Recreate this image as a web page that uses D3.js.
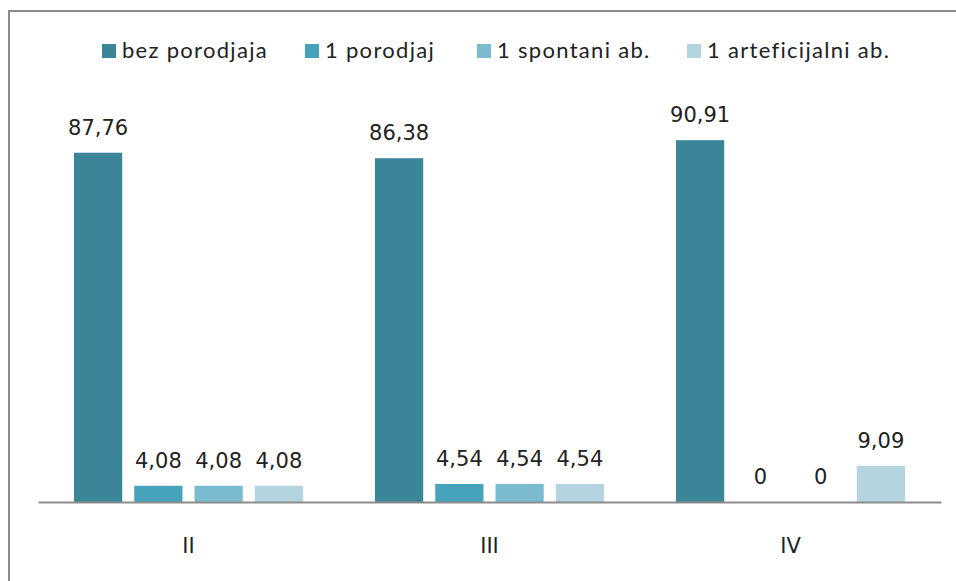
<!DOCTYPE html>
<html>
<head>
<meta charset="utf-8">
<script src="https://cdn.jsdelivr.net/npm/d3@7"></script>
<style>
  body { margin: 0; background: #fff; }
  svg { display: block; }
</style>
</head>
<body>
<script>
// data
const categories = ["II", "III", "IV"];
const seriesNames = ["bez porodjaja", "1 porodjaj", "1 spontani ab.", "1 arteficijalni ab."];
const bezPorodjaja = [87.76, 86.38, 90.91];
const jedanPorodjaj = [4.08, 4.54, 0];
const spontaniAb = [4.08, 4.54, 0];
const arteficijalniAb = [4.08, 4.54, 9.09];
const colors = ["#3b8599", "#46a3bb", "#7bbbd0", "#b4d4e0"];

const seriesValues = [bezPorodjaja, jedanPorodjaj, spontaniAb, arteficijalniAb];

const W = 956, H = 581;
const svg = d3.select("body").append("svg")
    .attr("width", W)
    .attr("height", H);

// outer frame (right and bottom edges fall outside the picture)
svg.append("rect")
    .attr("x", 9).attr("y", 11)
    .attr("width", W + 20).attr("height", H + 20)
    .attr("fill", "none")
    .attr("stroke", "#8c8c8c")
    .attr("stroke-width", 2);

const x = d3.scaleBand()
    .domain(categories)
    .range([38, 941]);

const xs = d3.scaleBand()
    .domain(d3.range(seriesNames.length))
    .range([36, x.bandwidth() - 36])
    .paddingInner(0.2);

const y = d3.scaleLinear()
    .domain([0, 100])
    .range([502, 104]);

const fmt = v => String(v).replace(".", ",");

const groups = svg.append("g").selectAll("g")
    .data(categories)
    .join("g")
    .attr("transform", d => `translate(${x(d)},0)`);

groups.selectAll("rect")
    .data((d, i) => seriesValues.map((s, k) => ({ k, v: s[i] })))
    .join("rect")
    .attr("x", d => xs(d.k))
    .attr("y", d => y(d.v))
    .attr("width", xs.bandwidth())
    .attr("height", d => y(0) - y(d.v))
    .attr("fill", d => colors[d.k]);

groups.selectAll("text")
    .data((d, i) => seriesValues.map((s, k) => ({ k, v: s[i] })))
    .join("text")
    .attr("x", d => xs(d.k) + xs.bandwidth() / 2)
    .attr("y", d => y(d.v) - 18)
    .attr("text-anchor", "middle")
    .attr("font-family", "DejaVu Sans, sans-serif")
    .attr("font-size", 21)
    .attr("fill", "#222")
    .text(d => fmt(d.v));

// category axis
const axis = svg.append("g")
    .attr("transform", `translate(0,${y(0)})`)
    .call(d3.axisBottom(x).tickSize(0).tickPadding(0));
axis.select(".domain").attr("stroke", "#8c8c8c").attr("stroke-width", 2);
axis.selectAll(".tick text")
    .attr("dy", 0)
    .attr("y", 51)
    .attr("font-family", "DejaVu Sans, sans-serif")
    .attr("font-size", 21)
    .attr("fill", "#222");

// legend
const legendX = [102, 305, 477, 687];
const legend = svg.append("g").selectAll("g")
    .data(seriesNames)
    .join("g")
    .attr("transform", (d, i) => `translate(${legendX[i]},44)`);
legend.append("rect")
    .attr("width", 14).attr("height", 14)
    .attr("fill", (d, i) => colors[i]);
legend.append("text")
    .attr("x", 20).attr("y", 14)
    .attr("font-family", "Lato, sans-serif")
    .attr("font-size", 22)
    .attr("letter-spacing", 1.3)
    .attr("fill", "#222")
    .text(d => d);
</script>
</body>
</html>
